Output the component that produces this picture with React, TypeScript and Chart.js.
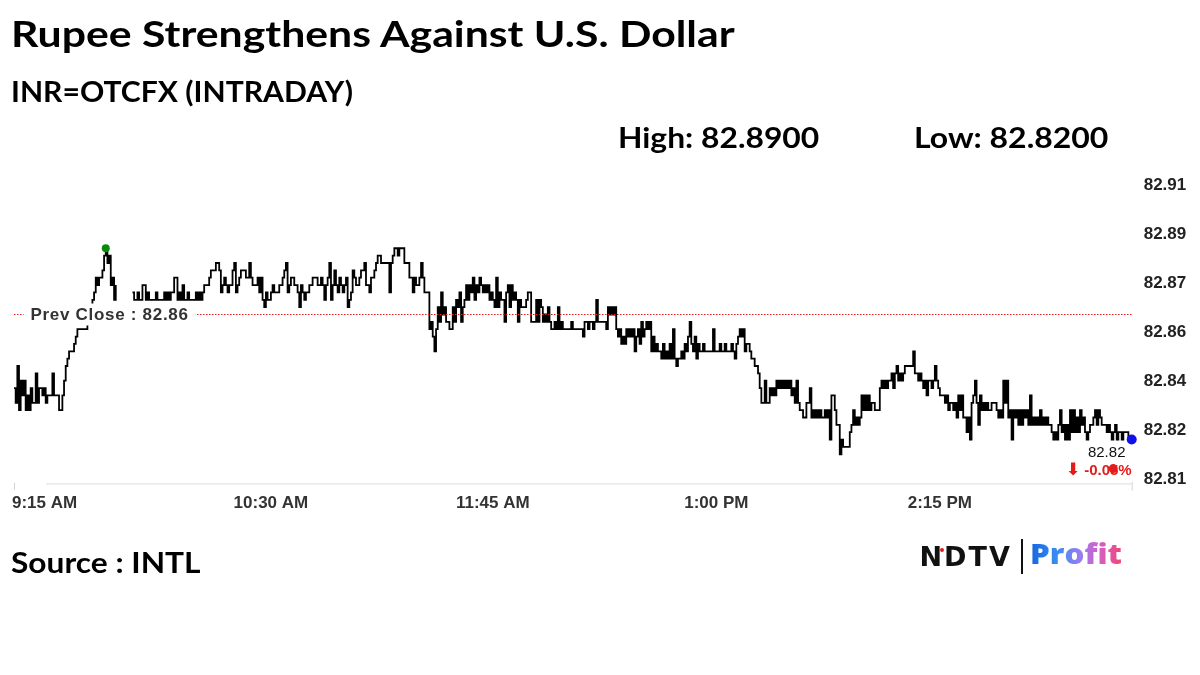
import React, { useEffect, useRef } from "react";
import { Chart, registerables } from "chart.js";

Chart.register(...registerables);

const chartTitle = "Rupee Strengthens Against U.S. Dollar";
const instrumentLabel = "INR=OTCFX (INTRADAY)";
const sourceLabel = "Source : INTL";
const prevClose = 82.8675;
const yAxisMin = 82.8115;
const yAxisMax = 82.9115;
const yTickCount = 7;
const timeTickLabels = ["9:15 AM", "10:30 AM", "11:45 AM", "1:00 PM", "2:15 PM"];
const timeTickIndex = [0, 154, 287, 421, 555];

// Session prices, sampled at a fixed interval (null = no quotes)
const pricesOpen = [
  82.8425, 82.8375, 82.85, 82.835, 82.845, 82.84, 82.845, 82.835, 82.84, 82.835,
  82.8425, 82.8375, 82.8375, 82.8475, 82.8375, 82.8425, 82.8425, 82.84, 82.8425, 82.8375,
  82.84, 82.84, 82.84, 82.8475, 82.84, 82.84, 82.84, 82.835, 82.835, 82.84,
  82.845, 82.85, 82.8525, 82.855, 82.855, 82.855, 82.8575, 82.86, 82.8625, 82.8625,
  82.8625, 82.8625, 82.8625, 82.8625, 82.865, 82.8675, 82.87, 82.8725, 82.875, 82.88,
  82.8775, 82.88, 82.88, 82.8825, 82.8875, 82.89, 82.885, 82.8875, 82.8775, 82.88,
  82.8725, 82.8775, null, null, null, null, null, null, null, null,
  null, 82.875, 82.8725, 82.8725, 82.875, 82.8725, 82.8725, 82.8775, 82.8775, 82.8725,
  82.875, 82.8725, 82.8725, 82.8725, 82.8725, 82.875, 82.8725, 82.8725, 82.8725, 82.8725,
  82.875, 82.8725, 82.875, 82.8725, 82.875, 82.875, 82.88, 82.88, 82.8725, 82.875,
  82.8725, 82.8775, 82.8725, 82.8725, 82.875, 82.8725,
];

const pricesLateMorning = [
  82.8725, 82.8725, 82.8725, 82.875, 82.8725, 82.875, 82.8725, 82.875, 82.8775, 82.8775,
  82.8775, 82.88, 82.8825, 82.8825, 82.8825, 82.885, 82.885, 82.8825, 82.875, 82.8775,
  82.88, 82.8775, 82.875, 82.8775, 82.8775, 82.8825, 82.885, 82.875, 82.8775, 82.88,
  82.8825, 82.8825, 82.8825, 82.88, 82.88, 82.885, 82.88, 82.8775, 82.8775, 82.8775,
  82.88, 82.875, 82.88, 82.8725, 82.87, 82.875, 82.8725, 82.8725, 82.875, 82.8775,
  82.875, 82.875, 82.875, 82.8775, 82.8775, 82.88, 82.8825, 82.885, 82.875, 82.8775,
  82.88, 82.88, 82.8775, 82.8775, 82.875, 82.87, 82.8775, 82.875, 82.8725, 82.875,
  82.875, 82.8775, 82.8775, 82.88, 82.88, 82.88, 82.8775, 82.8775, 82.88, 82.8775,
  82.8725, 82.8775, 82.88, 82.885, 82.8725, 82.8775, 82.8825, 82.8775, 82.875, 82.88,
  82.8775, 82.875, 82.8775, 82.88, 82.87, 82.8725, 82.875, 82.8825, 82.88, 82.8775,
  82.8775, 82.88, 82.8825, 82.8825, 82.885, 82.8775, 82.8775, 82.875, 82.88, 82.88,
  82.8825, 82.885, 82.8875, 82.8875,
];

const pricesMidday = [
  82.885, 82.885, 82.885, 82.885, 82.885, 82.875, 82.885, 82.8875, 82.89, 82.89,
  82.8875, 82.89, 82.89, 82.89, 82.885, 82.885, 82.885, 82.88, 82.88, 82.875,
  82.88, 82.8775, 82.8775, 82.88, 82.885, 82.88, 82.875, 82.875, 82.875, 82.8625,
  82.865, 82.86, 82.855, 82.8625, 82.87, 82.865, 82.875, 82.8675, 82.87, 82.865,
  82.865, 82.8625, 82.8625, 82.87, 82.865, 82.8725, 82.87, 82.875, 82.865, 82.87,
  82.8725, 82.8775, 82.8725, 82.8775, 82.875, 82.88, 82.8725, 82.8775, 82.875, 82.88,
  82.8775, 82.875, 82.8775, 82.875, 82.8775, 82.8725, 82.875, 82.8725, 82.87, 82.88,
  82.87, 82.875, 82.8725, 82.8725, 82.865, 82.875, 82.8775, 82.87, 82.8775, 82.8725,
  82.875, 82.8725, 82.865, 82.8725, 82.87, 82.87, 82.87, 82.8725, 82.875, 82.875,
  82.865, 82.865, 82.865, 82.8725, 82.865, 82.8725, 82.87, 82.865, 82.8675, 82.865,
  82.87, 82.865, 82.8625, 82.8625, 82.865, 82.8625, 82.87, 82.8625, 82.865, 82.8625,
  82.8625, 82.8625, 82.8625, 82.8625,
];

const pricesEarlyAfternoon = [
  82.865, 82.8625, 82.8625, 82.8625, 82.8625, 82.8625, 82.8625, 82.86, 82.865, 82.865,
  82.8625, 82.865, 82.865, 82.8625, 82.865, 82.8725, 82.865, 82.865, 82.865, 82.865,
  82.865, 82.8625, 82.87, 82.8675, 82.87, 82.8675, 82.87, 82.8625, 82.86, 82.8625,
  82.8575, 82.86, 82.8575, 82.8625, 82.86, 82.8625, 82.86, 82.8625, 82.855, 82.86,
  82.8625, 82.8575, 82.865, 82.86, 82.8625, 82.865, 82.8625, 82.865, 82.855, 82.86,
  82.855, 82.8575, 82.855, 82.855, 82.8525, 82.8575, 82.8525, 82.855, 82.8525, 82.8575,
  82.8525, 82.8625, 82.8525, 82.85, 82.8525, 82.8525, 82.855, 82.8525, 82.8575, 82.855,
  82.86, 82.865, 82.8575, 82.855, 82.86, 82.8525, 82.8575, 82.855, 82.855, 82.8575,
  82.855, 82.855, 82.855, 82.855, 82.855, 82.8625, 82.855, 82.855, 82.855, 82.8575,
  82.855, 82.855, 82.8575, 82.855, 82.855, 82.855, 82.8575, 82.855, 82.8525, 82.8575,
  82.86, 82.8625, 82.86, 82.8625, 82.855, 82.8575, 82.8575, 82.855, 82.8525, 82.8525,
  82.85, 82.85, 82.8475, 82.8425,
];

const pricesAfternoon = [
  82.8375, 82.8375, 82.845, 82.8375, 82.8375, 82.8425, 82.84, 82.8425, 82.84, 82.845,
  82.8425, 82.845, 82.8425, 82.845, 82.8425, 82.845, 82.8425, 82.845, 82.84, 82.8425,
  82.8375, 82.845, 82.8375, 82.835, 82.835, 82.8325, 82.8325, 82.8375, 82.8375, 82.8425,
  82.8325, 82.835, 82.8325, 82.835, 82.8325, 82.835, 82.8325, 82.8325, 82.835, 82.8325,
  82.835, 82.825, 82.84, 82.84, 82.835, 82.83, 82.83, 82.82, 82.825, 82.8225,
  82.8225, 82.8225, 82.8225, 82.8275, 82.83, 82.835, 82.83, 82.8325, 82.83, 82.8325,
  82.84, 82.835, 82.84, 82.835, 82.84, 82.835, 82.8375, 82.8375, 82.835, 82.835,
  82.835, 82.8425, 82.845, 82.8425, 82.845, 82.8425, 82.845, 82.845, 82.8475, 82.8425,
  82.8475, 82.85, 82.845, 82.8475, 82.845, 82.8475, 82.85, 82.85, 82.85, 82.85,
  82.85, 82.855, 82.8475, 82.8475, 82.845, 82.8475, 82.845, 82.8425, 82.845, 82.84,
  82.845, 82.845, 82.8425, 82.845, 82.85, 82.845, 82.8425, 82.84, 82.84, 82.84,
  82.8375, 82.84, 82.835, 82.8375,
];

const pricesClose = [
  82.8375, 82.835, 82.8375, 82.8325, 82.84, 82.835, 82.84, 82.8325, 82.8325, 82.8275,
  82.8325, 82.825, 82.8375, 82.84, 82.845, 82.8375, 82.83, 82.84, 82.835, 82.8375,
  82.835, 82.8375, 82.835, 82.835, 82.8375, 82.8375, 82.8375, 82.835, 82.8325, 82.835,
  82.8325, 82.845, 82.8375, 82.845, 82.8325, 82.835, 82.825, 82.835, 82.8325, 82.835,
  82.83, 82.835, 82.83, 82.835, 82.8325, 82.835, 82.83, 82.84, 82.83, 82.8325,
  82.83, 82.8325, 82.83, 82.835, 82.83, 82.8325, 82.83, 82.8325, 82.83, 82.83,
  82.8275, 82.825, 82.8275, 82.825, 82.83, 82.835, 82.8275, 82.83, 82.825, 82.83,
  82.825, 82.835, 82.8275, 82.835, 82.8275, 82.8325, 82.8275, 82.835, 82.83, 82.8325,
  82.8275, 82.825, 82.8275, 82.83, 82.83, 82.8325, 82.835, 82.83, 82.835, 82.8325,
  82.83, 82.83, 82.83, 82.8275, 82.83, 82.8275, 82.825, 82.8275, 82.83, 82.825,
  82.8275, 82.8275, 82.825, 82.8275, 82.8275, 82.8275, 82.825, 82.825, 82.825,
];

const prices: (number | null)[] = [
  ...pricesOpen,
  ...pricesLateMorning,
  ...pricesMidday,
  ...pricesEarlyAfternoon,
  ...pricesAfternoon,
  ...pricesClose,
];
const sampleLabels = prices.map((_, i) => String(i));
const validPrices = prices.filter((p): p is number => p !== null);
const dayHigh = Math.max(...validPrices);
const dayLow = Math.min(...validPrices);
const lastPrice = validPrices[validPrices.length - 1];
const changePct = ((lastPrice - prevClose) / prevClose) * 100;

const trunc2 = (v: number) => (Math.floor(v * 100 + 1e-7) / 100).toFixed(2);

const AXIS_FONT = 'bold 17px Arial, "Liberation Sans", sans-serif';

const overlayPlugin = {
  id: "overlay",
  afterDatasetsDraw(chart: any) {
    const { ctx, chartArea: a, scales } = chart;
    const x = scales.x;
    const y = scales.y;
    ctx.save();

    // previous close reference line
    const py = Math.round(y.getPixelForValue(prevClose)) + 0.5;
    ctx.strokeStyle = "#e31b1b";
    ctx.lineWidth = 1;
    ctx.setLineDash([1.5, 1.5]);
    ctx.beginPath();
    ctx.moveTo(a.left, py);
    ctx.lineTo(a.right, py);
    ctx.stroke();
    ctx.setLineDash([]);

    // prev close label
    ctx.font = 'bold 17px Arial, "Liberation Sans", sans-serif';
    try { (ctx as any).letterSpacing = "0.7px"; } catch (e) {}
    const label = `Prev Close : ${trunc2(prevClose)}`;
    const tw = ctx.measureText(label).width;
    const lx = a.left + 16.5;
    ctx.fillStyle = "#ffffff";
    ctx.fillRect(lx - 7, py - 11, tw + 14, 22);
    ctx.fillStyle = "#333333";
    ctx.textAlign = "left";
    ctx.textBaseline = "middle";
    ctx.fillText(label, lx, py + 1);
    try { (ctx as any).letterSpacing = "0px"; } catch (e) {}

    // high marker
    const hiIdx = prices.indexOf(dayHigh);
    ctx.fillStyle = "#0a8a0a";
    ctx.beginPath();
    ctx.arc(x.getPixelForValue(hiIdx), y.getPixelForValue(dayHigh), 4, 0, Math.PI * 2);
    ctx.fill();

    // last point marker
    const lastIdx = prices.length - 1;
    const lxp = x.getPixelForValue(lastIdx);
    const lyp = y.getPixelForValue(lastPrice);
    ctx.fillStyle = "#1010e8";
    ctx.beginPath();
    ctx.arc(lxp, lyp, 5, 0, Math.PI * 2);
    ctx.fill();

    // last price label
    ctx.font = '15px Arial, "Liberation Sans", sans-serif';
    ctx.fillStyle = "#111111";
    ctx.textAlign = "center";
    ctx.fillText(trunc2(lastPrice), lxp - 25, lyp + 13);

    // change label
    ctx.font = 'bold 15px Arial, "Liberation Sans", sans-serif';
    ctx.fillStyle = "#e31b1b";
    ctx.textAlign = "right";
    const chg = `${changePct < 0 ? "-" : "+"}${Math.abs(changePct).toFixed(2)}%`;
    ctx.fillText(chg, lxp, lyp + 31);
    const chgW = ctx.measureText(chg).width;
    ctx.font = 'bold 17px "DejaVu Sans", sans-serif';
    ctx.fillText(changePct < 0 ? "\u2B07" : "\u2B06", lxp - chgW - 4, lyp + 31);
    ctx.beginPath();
    ctx.arc(lxp - 18.5, lyp + 29, 4.5, 0, Math.PI * 2);
    ctx.fill();

    ctx.restore();
  },
  afterDraw(chart: any) {
    const { ctx, chartArea: a, scales } = chart;
    const x = scales.x;
    ctx.save();
    const axisY = a.bottom + 4.5;
    ctx.strokeStyle = "#e4e4e4";
    ctx.lineWidth = 1.2;
    ctx.beginPath();
    ctx.moveTo(a.left + 32, axisY);
    ctx.lineTo(a.right, axisY);
    ctx.stroke();
    ctx.strokeStyle = "#d4d4d4";
    ctx.lineWidth = 1;
    ctx.beginPath();
    ctx.moveTo(a.left + 0.5, axisY - 1);
    ctx.lineTo(a.left + 0.5, axisY + 6);
    ctx.moveTo(a.right + 0.5, axisY - 2);
    ctx.lineTo(a.right + 0.5, axisY + 7);
    ctx.stroke();

    ctx.font = AXIS_FONT;
    ctx.fillStyle = "#333333";
    ctx.textBaseline = "middle";
    timeTickIndex.forEach((idx, k) => {
      const px = x.getPixelForValue(idx);
      if (k === 0) {
        ctx.textAlign = "left";
        ctx.fillText(timeTickLabels[k], px - 2, a.bottom + 24);
      } else {
        ctx.textAlign = "center";
        ctx.fillText(timeTickLabels[k], px, a.bottom + 24);
      }
    });
    ctx.restore();
  },
};

function PriceChart() {
  const canvasRef = useRef<HTMLCanvasElement | null>(null);
  useEffect(() => {
    if (!canvasRef.current) return;
    const chart = new Chart(canvasRef.current, {
      type: "line",
      data: {
        labels: sampleLabels,
        datasets: [
          {
            data: prices,
            borderColor: "#000000",
            borderWidth: 1.8,
            stepped: true,
            pointRadius: 0,
            spanGaps: false,
            fill: false,
          },
        ],
      },
      options: {
        animation: false,
        responsive: true,
        maintainAspectRatio: false,
        layout: { padding: { left: 14, right: 0, top: 185, bottom: 195.7 } },
        plugins: {
          legend: { display: false },
          tooltip: { enabled: false },
          title: { display: false },
        },
        scales: {
          x: { type: "category", display: false, offset: false },
          y: {
            position: "right",
            min: yAxisMin,
            max: yAxisMax,
            grid: { display: false, drawTicks: false },
            border: { display: false },
            afterBuildTicks: (scale: any) => {
              const t = [];
              for (let k = 0; k < yTickCount; k++) {
                t.push({ value: yAxisMin + ((yAxisMax - yAxisMin) * k) / (yTickCount - 1) });
              }
              scale.ticks = t;
            },
            afterFit: (scale: any) => {
              scale.width = 68.3;
            },
            ticks: {
              padding: 12,
              color: "#222222",
              autoSkip: false,
              font: { family: 'Arial, "Liberation Sans", sans-serif', size: 17, weight: "bold" },
              callback: (v: any) => trunc2(Number(v)),
            },
          },
        },
      } as any,
      plugins: [overlayPlugin],
    });
    return () => chart.destroy();
  }, []);
  return (
    <div style={{ position: "absolute", left: 0, top: 0, width: 1200, height: 675 }}>
      <canvas ref={canvasRef} />
    </div>
  );
}

const headFont = 'Lato, "Open Sans", sans-serif';

function Txt(props: { text: string; left: number; baseline: number; size: number; sx: number }) {
  const { text, left, baseline, size, sx } = props;
  return (
    <div
      style={{
        position: "absolute",
        left,
        top: baseline - 0.887 * size,
        fontFamily: headFont,
        fontWeight: 700,
        fontSize: size,
        lineHeight: `${size}px`,
        color: "#000",
        whiteSpace: "nowrap",
        transform: `scaleX(${sx})`,
        transformOrigin: "left top",
      }}
    >
      {text}
    </div>
  );
}

export default function App() {
  useEffect(() => {
    document.body.style.margin = "0";
    document.body.style.background = "#fff";
  }, []);
  return (
    <div style={{ position: "absolute", left: 0, top: 0, width: 1200, height: 675, background: "#fff", overflow: "hidden" }}>
      <PriceChart />
      <Txt text={chartTitle} left={11} baseline={46.7} size={37} sx={1.155} />
      <Txt text={instrumentLabel} left={11} baseline={101.7} size={28} sx={1.075} />
      <Txt text={`High: ${dayHigh.toFixed(4)}`} left={618} baseline={148.3} size={28} sx={1.136} />
      <Txt text={`Low: ${dayLow.toFixed(4)}`} left={914} baseline={148.3} size={28} sx={1.142} />
      <Txt text={sourceLabel} left={11} baseline={572.7} size={29} sx={1.093} />
      {/* NDTV Profit mark */}
      <div
        style={{
          position: "absolute",
          left: 919.5,
          top: 566 - 0.846 * 27,
          fontFamily: '"DejaVu Sans", sans-serif',
          fontWeight: 700,
          fontSize: 27,
          lineHeight: "27px",
          letterSpacing: "2px",
          color: "#111",
          whiteSpace: "nowrap",
        }}
      >
        NDTV
      </div>
      <div style={{ position: "absolute", left: 940, top: 548, width: 4, height: 4, borderRadius: 2, background: "#e0201c" }} />
      <div style={{ position: "absolute", left: 1020.5, top: 539, width: 2, height: 35, background: "#111" }} />
      <div
        style={{
          position: "absolute",
          left: 1029.5,
          top: 563.3 - 0.888 * 29,
          fontFamily: '"Open Sans", sans-serif',
          fontWeight: 800,
          fontSize: 29,
          lineHeight: "29px",
          whiteSpace: "nowrap",
          transform: "scaleX(1.08)",
          transformOrigin: "left top",
          background: "linear-gradient(90deg, #1466e0 0%, #3a8ef2 30%, #9a7cf2 55%, #d45fc4 75%, #f2457a 100%)",
          WebkitBackgroundClip: "text",
          backgroundClip: "text",
          color: "transparent",
        }}
      >
        Profit
      </div>
    </div>
  );
}
